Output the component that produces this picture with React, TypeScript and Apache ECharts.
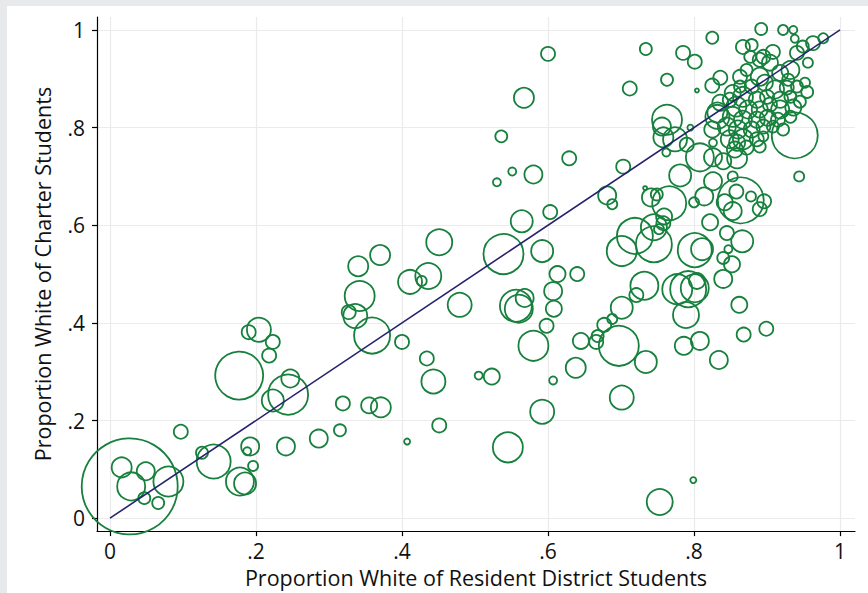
import React, { useEffect, useRef } from "react";
import * as echarts from "echarts";

// Proportion white of resident district students (x)
const xs = [
  0.027, 0.016, 0.029, 0.049, 0.080, 0.047, 0.066, 0.097, 0.126, 0.142,
  0.178, 0.185, 0.192, 0.188, 0.196, 0.241, 0.286, 0.315, 0.319, 0.355,
  0.371, 0.177, 0.204, 0.190, 0.223, 0.218, 0.247, 0.244, 0.223, 0.370,
  0.340, 0.342, 0.327, 0.336, 0.359, 0.400, 0.411, 0.436, 0.427, 0.451,
  0.479, 0.539, 0.564, 0.603, 0.592, 0.613, 0.640, 0.607, 0.608, 0.598,
  0.556, 0.560, 0.568, 0.580, 0.645, 0.638, 0.607, 0.434, 0.443, 0.505,
  0.523, 0.592, 0.451, 0.407, 0.545, 0.701, 0.753, 0.799, 0.703, 0.681,
  0.688, 0.733, 0.741, 0.749, 0.766, 0.759, 0.758, 0.752, 0.745, 0.719,
  0.745, 0.701, 0.781, 0.808, 0.826, 0.840, 0.859, 0.826, 0.853, 0.814,
  0.800, 0.864, 0.858, 0.842, 0.853, 0.878, 0.896, 0.890, 0.944, 0.822,
  0.845, 0.866, 0.847, 0.801, 0.811, 0.840, 0.852, 0.840, 0.801, 0.792,
  0.777, 0.804, 0.789, 0.732, 0.721, 0.701, 0.688, 0.677, 0.668, 0.666,
  0.697, 0.734, 0.786, 0.808, 0.834, 0.862, 0.868, 0.899, 0.600, 0.567,
  0.536, 0.629, 0.551, 0.580, 0.530, 0.734, 0.785, 0.801, 0.763, 0.804,
  0.712, 0.763, 0.756, 0.758, 0.774, 0.795, 0.790, 0.762, 0.825, 0.892,
  0.922, 0.936, 0.938, 0.867, 0.879, 0.908, 0.977, 0.963, 0.949, 0.938,
  0.825, 0.836, 0.863, 0.826, 0.859, 0.832, 0.853, 0.895, 0.955, 0.952,
  0.956, 0.941, 0.904, 0.932, 0.918, 0.890, 0.877, 0.872, 0.890, 0.911,
  0.927, 0.941, 0.897, 0.879, 0.863, 0.867, 0.886, 0.900, 0.918, 0.932,
  0.945, 0.936, 0.918, 0.904, 0.890, 0.874, 0.858, 0.849, 0.853, 0.867,
  0.886, 0.901, 0.915, 0.932, 0.845, 0.860, 0.879, 0.895, 0.908, 0.922,
  0.832, 0.836, 0.849, 0.867, 0.886, 0.856, 0.872, 0.890, 0.895, 0.825,
  0.929,
];

// Proportion white of charter students (y)
const ys = [
  0.065, 0.104, 0.065, 0.096, 0.075, 0.041, 0.031, 0.177, 0.134, 0.116,
  0.075, 0.071, 0.147, 0.137, 0.107, 0.147, 0.163, 0.180, 0.235, 0.231,
  0.227, 0.292, 0.386, 0.381, 0.361, 0.333, 0.286, 0.253, 0.241, 0.539,
  0.516, 0.455, 0.422, 0.414, 0.374, 0.361, 0.484, 0.496, 0.486, 0.565,
  0.437, 0.541, 0.608, 0.627, 0.547, 0.500, 0.500, 0.465, 0.429, 0.394,
  0.435, 0.429, 0.451, 0.353, 0.363, 0.308, 0.282, 0.327, 0.280, 0.292,
  0.290, 0.218, 0.190, 0.157, 0.145, 0.247, 0.033, 0.078, 0.720, 0.661,
  0.643, 0.676, 0.657, 0.663, 0.645, 0.618, 0.604, 0.592, 0.596, 0.578,
  0.561, 0.547, 0.702, 0.739, 0.739, 0.731, 0.737, 0.690, 0.700, 0.659,
  0.647, 0.651, 0.669, 0.647, 0.629, 0.659, 0.649, 0.633, 0.700, 0.606,
  0.584, 0.567, 0.551, 0.549, 0.551, 0.533, 0.520, 0.490, 0.471, 0.469,
  0.469, 0.486, 0.416, 0.476, 0.457, 0.431, 0.408, 0.396, 0.373, 0.361,
  0.353, 0.320, 0.353, 0.363, 0.324, 0.437, 0.376, 0.388, 0.951, 0.861,
  0.782, 0.737, 0.710, 0.704, 0.688, 0.961, 0.953, 0.935, 0.898, 0.876,
  0.880, 0.816, 0.802, 0.780, 0.776, 0.800, 0.765, 0.749, 0.984, 1.002,
  1.000, 1.000, 0.982, 0.965, 0.969, 0.955, 0.983, 0.973, 0.966, 0.784,
  0.886, 0.902, 0.884, 0.769, 0.769, 0.822, 0.871, 0.945, 0.873, 0.892,
  0.933, 0.953, 0.933, 0.918, 0.912, 0.939, 0.945, 0.918, 0.904, 0.878,
  0.882, 0.884, 0.892, 0.884, 0.904, 0.863, 0.857, 0.863, 0.857, 0.863,
  0.853, 0.841, 0.837, 0.847, 0.837, 0.837, 0.843, 0.857, 0.822, 0.816,
  0.816, 0.820, 0.816, 0.822, 0.802, 0.796, 0.796, 0.802, 0.802, 0.796,
  0.831, 0.851, 0.776, 0.776, 0.776, 0.755, 0.759, 0.761, 0.782, 0.796,
  0.898,
];

// Relative enrollment weight of each charter (marker area)
const weights = [
  2304, 100, 196, 81, 225, 36, 36, 49, 36, 289,
  196, 121, 81, 16, 25, 81, 81, 36, 49, 64,
  100, 576, 144, 49, 49, 49, 81, 400, 121, 100,
  100, 225, 49, 144, 324, 49, 144, 169, 25, 169,
  144, 400, 121, 49, 121, 64, 49, 81, 64, 49,
  256, 196, 81, 225, 64, 100, 16, 49, 144, 16,
  64, 144, 49, 9, 225, 144, 169, 9, 49, 81,
  25, 4, 81, 36, 289, 64, 49, 25, 169, 324,
  324, 225, 121, 196, 81, 64, 100, 81, 25, 81,
  25, 529, 49, 64, 81, 25, 49, 49, 25, 64,
  49, 121, 16, 289, 121, 36, 64, 81, 196, 324,
  225, 64, 169, 196, 49, 121, 25, 49, 36, 49,
  400, 121, 81, 81, 81, 64, 49, 49, 49, 100,
  36, 49, 16, 81, 16, 36, 49, 49, 36, 4,
  49, 225, 81, 100, 144, 9, 49, 16, 36, 36,
  25, 16, 16, 49, 36, 49, 25, 49, 36, 529,
  49, 49, 36, 16, 64, 144, 64, 49, 36, 25,
  25, 49, 64, 81, 64, 49, 36, 36, 81, 81,
  49, 36, 64, 49, 49, 100, 64, 49, 64, 36,
  36, 64, 81, 49, 64, 81, 100, 49, 100, 81,
  64, 64, 49, 36, 81, 81, 64, 49, 36, 36,
  100, 64, 81, 100, 49, 64, 49, 36, 25, 64,
  36,
];

// Reference line (equal proportions)
const refLine = [
  [0, 0],
  [1, 1],
];

const tickValues = [0, 0.2, 0.4, 0.6, 0.8, 1];
const tickLabels = ["0", ".2", ".4", ".6", ".8", "1"];

const xTitle = "Proportion White of Resident District Students";
const yTitle = "Proportion White of Charter Students";

const GREEN = "#17803d";
const NAVY = "#26236e";
const FONT = "'Open Sans', 'Noto Sans', sans-serif";

function fmt(v: number): string {
  let best = 0;
  let bd = Infinity;
  tickValues.forEach((t, i) => {
    const d = Math.abs(t - v);
    if (d < bd) {
      bd = d;
      best = i;
    }
  });
  return tickLabels[best];
}

export default function App() {
  const ref = useRef<HTMLDivElement>(null);

  useEffect(() => {
    if (!ref.current) return;
    const chart = echarts.init(ref.current, undefined, { renderer: "svg" });
    const points = xs.map((x, i) => [x, ys[i], weights[i]]);

    const axisCommon = {
      type: "value" as const,
      axisLine: { show: true, onZero: false, lineStyle: { color: "#000", width: 1.2 } },
      axisTick: {
        show: true,
        length: 5,
        customValues: tickValues,
        lineStyle: { color: "#000", width: 1.2 },
      },
      axisLabel: {
        customValues: tickValues,
        formatter: (v: number) => fmt(v),
        fontSize: 21,
        color: "#111",
        fontFamily: FONT,
      },
      splitLine: { show: true, lineStyle: { color: "#ebebeb", width: 1.2 } },
      nameLocation: "middle" as const,
      nameTextStyle: { fontSize: 21.5, color: "#111", fontFamily: FONT },
    };

    chart.setOption({
      animation: false,
      backgroundColor: "#ffffff",
      grid: { left: 90, right: 13, top: 11, bottom: 60, containLabel: false },
      xAxis: {
        ...axisCommon,
        min: -0.0178,
        max: 1.0205,
        name: xTitle,
        nameGap: 33,
        axisLabel: { ...axisCommon.axisLabel, margin: 9 },
      },
      yAxis: {
        ...axisCommon,
        min: -0.0265,
        max: 1.0265,
        name: yTitle,
        nameGap: 44,
        axisLabel: { ...axisCommon.axisLabel, margin: 12 },
      },
      series: [
        {
          type: "scatter",
          data: points,
          symbol: "circle",
          symbolSize: (v: number[]) => 2 * Math.sqrt(v[2]),
          itemStyle: {
            color: "rgba(0,0,0,0)",
            borderColor: GREEN,
            borderWidth: 1.8,
            opacity: 1,
          },
          emphasis: { disabled: true },
          silent: true,
        },
        {
          type: "line",
          data: refLine,
          symbol: "none",
          lineStyle: { color: NAVY, width: 1.6 },
          silent: true,
          z: 5,
        },
      ],
    });

    return () => chart.dispose();
  }, []);

  return (
    <div
      style={{
        position: "fixed",
        left: 0,
        top: 0,
        width: 868,
        height: 593,
        background: "#e8e9eb",
        overflow: "hidden",
      }}
    >
      <div
        ref={ref}
        style={{ position: "absolute", left: 7, top: 6, width: 861, height: 587 }}
      />
    </div>
  );
}
